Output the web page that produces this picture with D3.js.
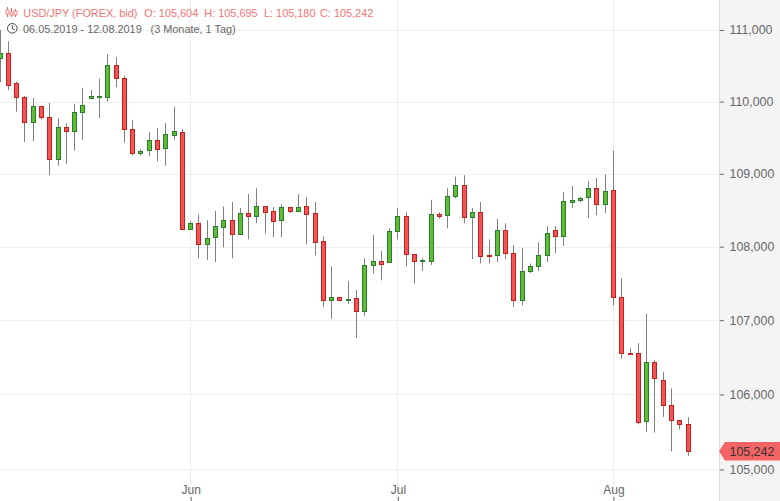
<!DOCTYPE html>
<html>
<head>
<meta charset="utf-8">
<script src="https://cdn.jsdelivr.net/npm/d3@7"></script>
<style>
    html, body { margin: 0; padding: 0; background: #fff; }
    svg { display: block; font-family: "Liberation Sans", Arial, sans-serif; }
</style>
</head>
<body>
<div id="chart"></div>
<script>
// one candle per trading session, FX data so weeks have six sessions
const opens = [110.61,110.68,110.26,110.06,109.71,109.94,109.78,109.21,109.64,109.59,109.85,110.05,110.06,110.06,110.51,110.33,109.62,109.29,109.33,109.47,109.36,109.53,109.58,108.24,108.32,108.03,108.13,108.27,108.36,108.17,108.46,108.42,108.55,108.49,108.36,108.54,108.49,108.55,108.46,108.08,107.28,107.31,107.27,107.30,107.13,107.75,107.80,107.79,108.21,108.42,107.90,107.80,107.80,108.44,108.43,108.70,108.84,108.40,108.47,107.88,107.88,108.23,107.91,107.27,107.67,107.73,107.88,108.23,108.14,108.61,108.64,108.68,108.81,108.58,108.77,107.32,106.56,106.56,105.64,106.43,106.20,105.86,105.66,105.604];
const highs = [111.00,110.84,110.28,110.08,110.05,109.94,109.98,109.77,109.70,109.97,110.19,110.16,110.32,110.66,110.62,110.36,109.74,109.34,109.58,109.63,109.70,109.93,109.62,108.35,108.44,108.36,108.49,108.55,108.61,108.53,108.72,108.80,108.55,108.54,108.58,108.54,108.72,108.68,108.61,108.14,107.73,107.31,107.53,107.41,107.84,108.16,107.94,108.25,108.53,108.47,107.90,107.84,108.64,108.47,108.80,108.96,108.98,108.53,108.61,108.10,108.38,108.32,108.02,107.98,107.77,108.06,108.28,108.28,108.75,108.83,108.68,108.90,108.94,108.99,109.32,107.57,106.62,106.69,107.09,106.46,106.30,106.08,105.66,105.695];
const lows = [110.27,110.16,109.86,109.44,109.45,109.75,108.98,109.11,109.13,109.32,109.47,110.04,109.77,110.00,110.20,109.43,109.25,109.25,109.24,109.17,109.11,109.47,108.24,108.24,107.84,107.82,107.79,107.99,107.84,108.17,108.10,108.32,108.18,108.13,108.13,108.46,108.47,108.03,107.88,107.18,107.02,107.27,107.22,106.76,107.06,107.63,107.54,107.79,108.10,107.73,107.50,107.67,107.75,108.38,108.25,108.66,108.32,107.83,107.77,107.77,107.79,107.83,107.18,107.20,107.64,107.67,107.79,107.91,108.01,108.53,108.61,108.39,108.43,108.46,107.20,106.48,106.55,105.60,105.50,105.49,105.70,105.24,105.53,105.180];
const closes = [110.68,110.23,110.06,109.71,109.94,109.78,109.20,109.64,109.59,109.85,109.95,110.08,110.08,110.51,110.33,109.62,109.29,109.32,109.47,109.34,109.55,109.59,108.24,108.32,108.03,108.12,108.28,108.36,108.17,108.46,108.42,108.55,108.47,108.35,108.54,108.49,108.54,108.44,108.06,107.28,107.31,107.28,107.29,107.13,107.75,107.80,107.77,108.21,108.42,107.90,107.80,107.82,108.44,108.42,108.69,108.84,108.40,108.47,107.87,107.87,108.23,107.91,107.27,107.67,107.73,107.88,108.18,108.14,108.62,108.64,108.66,108.81,108.58,108.76,107.32,106.56,106.55,105.63,106.43,106.22,105.86,105.66,105.61,105.242];

const priceTicks = [105, 106, 107, 108, 109, 110, 111];
const monthLabels = ['Jun', 'Jul', 'Aug'];
const monthIndex = [23, 48, 74];
const lastPrice = 105.242;

const width = 780;
const height = 501;
const panelX = 719;
const candleW = 4;
const labelFont = '12.4px';
const headFont = '10.9px';

const fmt = v => d3.format('.3f')(v).replace('.', ',');

const x = d3.scaleLinear().domain([0, opens.length - 1]).range([0, 688.07]);
// the price axis is logarithmic, the gaps between ticks grow towards the bottom
const y = d3.scaleLog().domain([105, 111]).range([469.4, 30]);

const px = d => Math.floor(x(d)) + 0.5;

const svg = d3.select('#chart').append('svg')
    .attr('width', width)
    .attr('height', height);

// price panel on the right
svg.append('rect')
    .attr('x', panelX).attr('y', 0)
    .attr('width', width - panelX).attr('height', height)
    .attr('fill', '#f4f4f4');
svg.append('line')
    .attr('x1', panelX + 0.5).attr('x2', panelX + 0.5)
    .attr('y1', 0).attr('y2', height)
    .attr('stroke', '#dcdcdc');

// grid
svg.append('g').selectAll('line')
    .data(priceTicks)
    .enter().append('line')
    .attr('x1', 0).attr('x2', panelX)
    .attr('y1', d => Math.round(y(d)) + 0.5).attr('y2', d => Math.round(y(d)) + 0.5)
    .attr('stroke', '#eeeeee');
svg.append('g').selectAll('line')
    .data(monthIndex)
    .enter().append('line')
    .attr('x1', px).attr('x2', px)
    .attr('y1', 0).attr('y2', height)
    .attr('stroke', '#eeeeee');

// axes
const yAxis = d3.axisRight(y)
    .tickValues(priceTicks)
    .tickSize(4)
    .tickPadding(5.5)
    .tickFormat(fmt);
const yG = svg.append('g')
    .attr('transform', `translate(${panelX + 1}, 0)`)
    .call(yAxis);
yG.select('.domain').remove();
yG.selectAll('line').attr('stroke', '#666');
yG.selectAll('text')
    .attr('fill', '#666')
    .style('font-size', labelFont)
    .style('font-family', '"Liberation Sans", Arial, sans-serif');

const xAxis = d3.axisBottom(x)
    .tickValues(monthIndex)
    .tickSize(4)
    .tickFormat((d, i) => monthLabels[i]);
const xG = svg.append('g')
    .attr('transform', 'translate(0, 497)')
    .call(xAxis);
xG.select('.domain').remove();
xG.selectAll('line').attr('stroke', '#666');
xG.selectAll('text')
    .attr('y', -3)
    .attr('dy', 0)
    .attr('fill', '#666')
    .style('font-size', '12px')
    .style('font-family', '"Liberation Sans", Arial, sans-serif');

// candles
const candles = svg.append('g').selectAll('g')
    .data(d3.range(opens.length))
    .enter().append('g');

candles.append('line')
    .attr('x1', px).attr('x2', px)
    .attr('y1', d => y(highs[d])).attr('y2', d => y(lows[d]))
    .attr('stroke', '#808080')
    .attr('stroke-width', 1);

candles.append('rect')
    .attr('x', d => px(d) - candleW / 2)
    .attr('y', d => Math.round(y(Math.max(opens[d], closes[d]))) + 0.5)
    .attr('width', candleW)
    .attr('height', d => Math.max(1, Math.round(y(Math.min(opens[d], closes[d]))) - Math.round(y(Math.max(opens[d], closes[d])))))
    .attr('fill', d => closes[d] >= opens[d] ? '#60bd32' : '#f25555')
    .attr('stroke', d => closes[d] >= opens[d] ? '#2a7d2e' : '#c21f1f')
    .attr('stroke-width', 1);

// last price tag
const tagY = y(lastPrice);
svg.append('path')
    .attr('d', `M${panelX},${tagY} L${panelX + 6},${tagY - 9.2} L${width},${tagY - 9.2} L${width},${tagY + 9.2} L${panelX + 6},${tagY + 9.2} Z`)
    .attr('fill', '#f46464');
svg.append('text')
    .attr('x', 729.5).attr('y', tagY + 4.5)
    .attr('fill', '#333')
    .style('font-size', labelFont)
    .text(fmt(lastPrice));

// header
const header = svg.append('g');
const iconBars = [[7.5, 10, 14, 7, 17], [11.5, 12, 15, 8, 17], [15.5, 11, 15, 9, 17]];
iconBars.forEach(b => {
    header.append('line')
        .attr('x1', b[0]).attr('x2', b[0])
        .attr('y1', b[3]).attr('y2', b[4])
        .attr('stroke', '#f26d6d').attr('stroke-width', 1);
    header.append('rect')
        .attr('x', b[0] - 1.5).attr('y', b[1])
        .attr('width', 3).attr('height', b[2] - b[1])
        .attr('fill', '#fff').attr('stroke', '#f26d6d').attr('stroke-width', 0.8);
});
const headParts = [
    ['USD/JPY (FOREX, bid)', 23.3],
    ['O: 105,604', 144.3],
    ['H: 105,695', 204.3],
    ['L: 105,180', 264],
    ['C: 105,242', 320]
];
header.selectAll('text.quote')
    .data(headParts)
    .enter().append('text')
    .attr('class', 'quote')
    .attr('x', d => d[1]).attr('y', 16.5)
    .attr('fill', '#f47474')
    .style('font-size', headFont)
    .text(d => d[0]);

header.append('circle')
    .attr('cx', 12.3).attr('cy', 28.3).attr('r', 4.8)
    .attr('fill', '#fff').attr('stroke', '#444').attr('stroke-width', 1);
header.append('path')
    .attr('d', 'M12.3,25.3 L12.3,28.6 L14.8,29.8')
    .attr('fill', 'none').attr('stroke', '#444');
header.append('text')
    .attr('x', 23).attr('y', 32.5)
    .attr('fill', '#666')
    .style('font-size', headFont)
    .text('06.05.2019 - 12.08.2019');
header.append('text')
    .attr('x', 150.5).attr('y', 32.5)
    .attr('fill', '#666')
    .style('font-size', headFont)
    .text('(3 Monate, 1 Tag)');
</script>
</body>
</html>
